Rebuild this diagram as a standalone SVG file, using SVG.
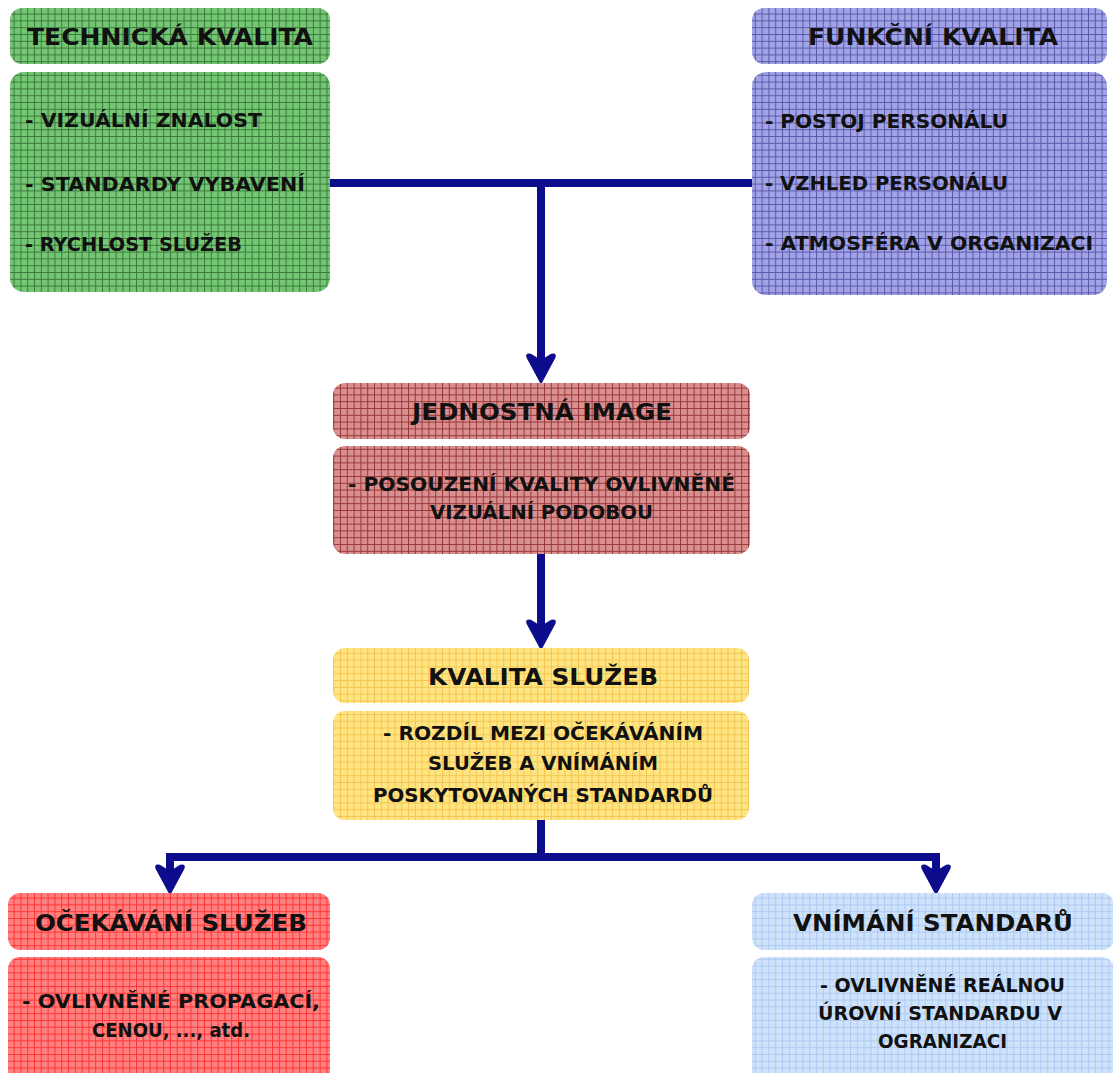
<svg xmlns="http://www.w3.org/2000/svg" width="1113" height="1073" viewBox="0 0 1113 1073">
<defs>
<pattern id="pGreen" patternUnits="userSpaceOnUse" width="6.8" height="6.8"><rect width="6.8" height="6.8" fill="#74c674"/><path d="M0,0.5 H6.8 M0.5,0 V6.8" stroke="#3a7a3a" stroke-width="1"/></pattern>
<pattern id="pPurple" patternUnits="userSpaceOnUse" width="6.8" height="6.8"><rect width="6.8" height="6.8" fill="#a2a2e6"/><path d="M0,0.5 H6.8 M0.5,0 V6.8" stroke="#5a5aaa" stroke-width="1"/></pattern>
<pattern id="pBrown" patternUnits="userSpaceOnUse" width="6.8" height="6.8"><rect width="6.8" height="6.8" fill="#d98f8f"/><path d="M0,0.5 H6.8 M0.5,0 V6.8" stroke="#983838" stroke-width="1"/></pattern>
<pattern id="pYellow" patternUnits="userSpaceOnUse" width="6.8" height="6.8"><rect width="6.8" height="6.8" fill="#ffe582"/><path d="M0,0.5 H6.8 M0.5,0 V6.8" stroke="#f3c552" stroke-width="1"/></pattern>
<pattern id="pRed" patternUnits="userSpaceOnUse" width="6.8" height="6.8"><rect width="6.8" height="6.8" fill="#ff8080"/><path d="M0,0.5 H6.8 M0.5,0 V6.8" stroke="#ff3434" stroke-width="1"/></pattern>
<pattern id="pBlue" patternUnits="userSpaceOnUse" width="6.8" height="6.8"><rect width="6.8" height="6.8" fill="#cee3fb"/><path d="M0,0.5 H6.8 M0.5,0 V6.8" stroke="#aecaf0" stroke-width="1"/></pattern>
<marker id="arrow" markerUnits="userSpaceOnUse" viewBox="0 0 30 32" refX="9" refY="16" markerWidth="30" markerHeight="32" orient="auto">
<path d="M30,16 L5,2.5 Q0,0.5 1.5,5.5 L8,16 L1.5,26.5 Q0,31.5 5,29.5 Z" fill="#0c0c8c" stroke="#0c0c8c" stroke-width="1.5" stroke-linejoin="round"/>
</marker>
</defs>
<style>
.h{font-family:"DejaVu Sans","Liberation Sans",sans-serif;font-weight:bold;font-size:23px;fill:#111}
.b{font-family:"DejaVu Sans","Liberation Sans",sans-serif;font-weight:bold;font-size:19.5px;fill:#111}
.c{fill:none;stroke:#0c0c8c;stroke-width:8}
</style>
<rect width="1113" height="1073" fill="#ffffff"/>
<g id="connectors">
<path class="c" d="M330,183 H541 V362" marker-end="url(#arrow)"/>
<path class="c" d="M752,183 H541"/>
<path class="c" d="M541,554 V628" marker-end="url(#arrow)"/>
<path class="c" d="M541,820 V857"/>
<path class="c" d="M541,857 H170 V873" marker-end="url(#arrow)"/>
<path class="c" d="M541,857 H936 V873" marker-end="url(#arrow)"/>
</g>
<g id="technicka">
<rect x="10" y="8" width="320" height="56" rx="12" fill="url(#pGreen)"/>
<rect x="10" y="72" width="320" height="220" rx="14" fill="url(#pGreen)"/>
<text class="h" x="27" y="45" textLength="286" lengthAdjust="spacingAndGlyphs">TECHNICKÁ KVALITA</text>
<text class="b" x="25" y="127" textLength="237" lengthAdjust="spacingAndGlyphs">- VIZUÁLNÍ ZNALOST</text>
<text class="b" x="25" y="191" textLength="280" lengthAdjust="spacingAndGlyphs">- STANDARDY VYBAVENÍ</text>
<text class="b" x="25" y="251" textLength="217" lengthAdjust="spacingAndGlyphs">- RYCHLOST SLUŽEB</text>
</g>
<g id="funkcni">
<rect x="752" y="8" width="355" height="56" rx="12" fill="url(#pPurple)"/>
<rect x="752" y="72" width="355" height="223" rx="14" fill="url(#pPurple)"/>
<text class="h" x="808" y="45" textLength="250" lengthAdjust="spacingAndGlyphs">FUNKČNÍ KVALITA</text>
<text class="b" x="765" y="128" textLength="243" lengthAdjust="spacingAndGlyphs">- POSTOJ PERSONÁLU</text>
<text class="b" x="765" y="190" textLength="243" lengthAdjust="spacingAndGlyphs">- VZHLED PERSONÁLU</text>
<text class="b" x="765" y="250" textLength="328" lengthAdjust="spacingAndGlyphs">- ATMOSFÉRA V ORGANIZACI</text>
</g>
<g id="image">
<rect x="333" y="383" width="417" height="56" rx="12" fill="url(#pBrown)"/>
<rect x="333" y="446" width="417" height="108" rx="12" fill="url(#pBrown)"/>
<text class="h" x="412" y="420" textLength="260" lengthAdjust="spacingAndGlyphs">JEDNOSTNÁ IMAGE</text>
<text class="b" x="348" y="491" textLength="387" lengthAdjust="spacingAndGlyphs">- POSOUZENÍ KVALITY OVLIVNĚNÉ</text>
<text class="b" x="430" y="519" textLength="223" lengthAdjust="spacingAndGlyphs">VIZUÁLNÍ PODOBOU</text>
</g>
<g id="kvalita">
<rect x="333" y="648" width="416" height="55" rx="12" fill="url(#pYellow)"/>
<rect x="333" y="711" width="416" height="109" rx="12" fill="url(#pYellow)"/>
<text class="h" x="428" y="685" textLength="230" lengthAdjust="spacingAndGlyphs">KVALITA SLUŽEB</text>
<text class="b" x="383" y="740" textLength="320" lengthAdjust="spacingAndGlyphs">- ROZDÍL MEZI OČEKÁVÁNÍM</text>
<text class="b" x="428" y="770" textLength="230" lengthAdjust="spacingAndGlyphs">SLUŽEB A VNÍMÁNÍM</text>
<text class="b" x="373" y="802" textLength="340" lengthAdjust="spacingAndGlyphs">POSKYTOVANÝCH STANDARDŮ</text>
</g>
<g id="ocekavani">
<rect x="8" y="893" width="322" height="57" rx="12" fill="url(#pRed)"/>
<rect x="8" y="957" width="322" height="130" rx="12" fill="url(#pRed)"/>
<text class="h" x="35" y="931" textLength="272" lengthAdjust="spacingAndGlyphs">OČEKÁVÁNÍ SLUŽEB</text>
<text class="b" x="22" y="1008" textLength="298" lengthAdjust="spacingAndGlyphs">- OVLIVNĚNÉ  PROPAGACÍ,</text>
<text class="b" x="92" y="1037" textLength="158" lengthAdjust="spacingAndGlyphs">CENOU, ..., atd.</text>
</g>
<g id="vnimani">
<rect x="752" y="893" width="362" height="57" rx="12" fill="url(#pBlue)"/>
<rect x="752" y="957" width="362" height="130" rx="12" fill="url(#pBlue)"/>
<text class="h" x="793" y="931" textLength="280" lengthAdjust="spacingAndGlyphs">VNÍMÁNÍ STANDARŮ</text>
<text class="b" x="820" y="992" textLength="245" lengthAdjust="spacingAndGlyphs">- OVLIVNĚNÉ REÁLNOU</text>
<text class="b" x="818" y="1020" textLength="244" lengthAdjust="spacingAndGlyphs">ÚROVNÍ STANDARDU V</text>
<text class="b" x="878" y="1048" textLength="129" lengthAdjust="spacingAndGlyphs">OGRANIZACI</text>
</g>
</svg>
